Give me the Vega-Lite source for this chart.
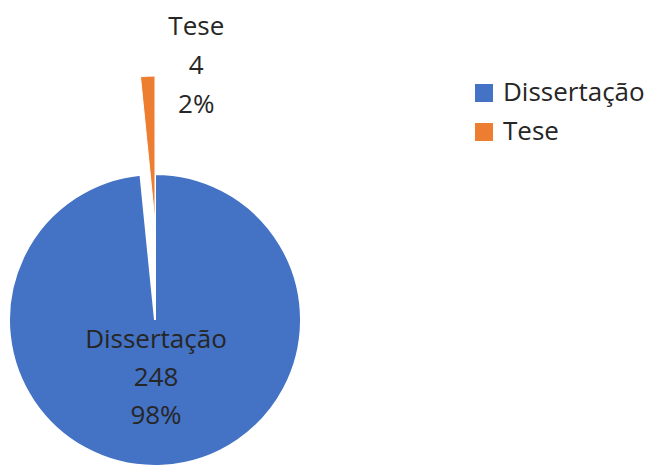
{
  "$schema": "https://vega.github.io/schema/vega-lite/v6.json",
  "autosize": "none",
  "width": 300,
  "height": 300,
  "padding": {"left": 5, "top": 170, "right": 344, "bottom": 0},
  "background": "white",
  "config": {"view": {"stroke": null}, "font": "Open Sans"},
  "data": {"values": [
    {"tipo": "Dissertação", "n": 248},
    {"tipo": "Tese", "n": 4}
  ]},
  "transform": [
    {"joinaggregate": [{"op": "sum", "field": "n", "as": "total"}]},
    {"stack": "n", "groupby": [], "sort": [{"field": "tipo", "order": "ascending"}], "as": ["ini", "fim"]},
    {"calculate": "(datum.ini + datum.fim) / 2", "as": "meio"},
    {"calculate": "[datum.tipo, '' + datum.n, format(datum.n / datum.total, '.0%')]", "as": "rotulo"}
  ],
  "encoding": {
    "color": {
      "field": "tipo", "type": "nominal",
      "scale": {"domain": ["Dissertação", "Tese"], "range": ["#4472C4", "#ED7D31"]},
      "legend": {
        "title": null, "orient": "none", "legendX": 466, "legendY": -90, "padding": 0,
        "symbolType": "square", "symbolSize": 324, "symbolStrokeWidth": 0,
        "labelFontSize": 26, "labelColor": "#262626", "labelOffset": 6,
        "rowPadding": 13, "labelFont": "Open Sans"
      }
    }
  },
  "layer": [
    {
      "transform": [{"filter": "datum.tipo == 'Dissertação'"}],
      "mark": {"type": "arc", "outerRadius": 146, "stroke": "white", "strokeWidth": 2},
      "encoding": {
        "theta": {"field": "fim", "type": "quantitative"},
        "theta2": {"field": "ini"}
      }
    },
    {
      "transform": [{"filter": "datum.tipo == 'Tese'"}],
      "mark": {"type": "arc", "outerRadius": 146, "stroke": "white", "strokeWidth": 1, "yOffset": -98},
      "encoding": {
        "theta": {"field": "fim", "type": "quantitative"},
        "theta2": {"field": "ini"}
      }
    },
    {
      "transform": [{"filter": "datum.tipo == 'Dissertação'"}],
      "mark": {"type": "text", "radius": 20, "fontSize": 26, "lineHeight": 38, "baseline": "middle", "align": "center"},
      "encoding": {
        "theta": {"field": "meio", "type": "quantitative"},
        "text": {"field": "rotulo", "type": "nominal"},
        "color": {"value": "#262626"}
      }
    },
    {
      "transform": [{"filter": "datum.tipo == 'Tese'"}],
      "mark": {"type": "text", "radius": 195, "yOffset": -98, "dx": 51, "fontSize": 26, "lineHeight": 39, "baseline": "middle", "align": "center"},
      "encoding": {
        "theta": {"field": "meio", "type": "quantitative"},
        "text": {"field": "rotulo", "type": "nominal"},
        "color": {"value": "#262626"}
      }
    }
  ]
}
